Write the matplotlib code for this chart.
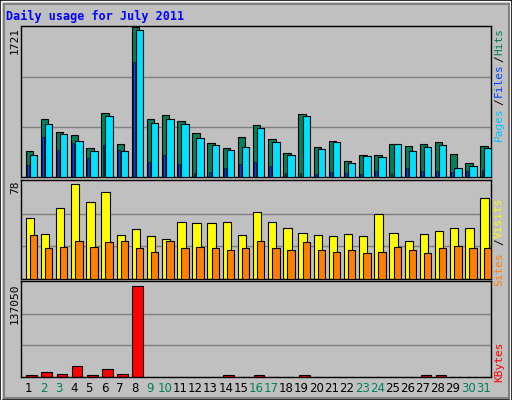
import matplotlib
matplotlib.use("Agg")
import matplotlib.pyplot as plt
from matplotlib.patches import Rectangle

days = list(range(1, 32))
hits = [296,663,519,484,332,741,378,1721,663,718,647,507,390,332,460,601,437,273,729,343,413,179,250,250,378,355,378,402,261,156,355]
files = [250,612,495,413,296,706,296,1689,624,671,612,449,367,308,343,566,402,250,706,320,402,156,238,226,378,296,343,367,109,121,332]
pages = [133,460,308,390,215,367,308,1326,168,250,144,51,62,98,144,168,121,51,51,39,62,51,39,74,51,98,74,74,62,74,86]
visits = [50,37,58.5,78,63,71,36,41,35,33,47,46,46,47,36,55,47,42,38,36,35,37,35,53,38,31,37,39,42,42,66]
sites = [36,25,26,31,26,30,31,25,22,31,25,26,25,24,25,31,25,24,30,24,22,24,21,22,26,24,21,25,27,25,25]
kbytes = [3000,7500,4500,16500,3000,12000,4500,137050,600,600,600,600,600,2500,600,2500,600,600,2500,600,600,600,600,600,600,600,2500,2500,600,600,600]
weekends = {2,3,9,10,16,17,23,24,30,31}

W, H = 512, 400
fig = plt.figure(figsize=(W/100, H/100), dpi=100, facecolor="#C0C0C0")
mono = "DejaVu Sans Mono"

def ax_px(x0, y0, x1, y1):
    return fig.add_axes([x0/W, 1-y1/H, (x1-x0)/W, (y1-y0)/H])

fig.patches.append(Rectangle((0,0),1,1,transform=fig.transFigure,fill=False,ec="black",lw=1.5))
fig.patches.append(Rectangle((1/W,0),(W-3)/W,(H-1)/H,transform=fig.transFigure,fill=False,ec="white",lw=1))
fig.patches.append(Rectangle((4/W,2/H),(W-7)/W,(H-6)/H,transform=fig.transFigure,fill=False,ec="#808080",lw=1.5))

def setup(ax, ymax):
    ax.set_facecolor("#C0C0C0")
    ax.set_xlim(0.5, 31.5)
    ax.set_ylim(0, ymax*1.01)
    for f in (1/3, 2/3):
        ax.axhline(ymax*f, color="#808080", lw=1, zorder=0)
    ax.set_xticks([]); ax.set_yticks([])
    for s in ax.spines.values():
        s.set_color("black"); s.set_linewidth(1)

ax1 = ax_px(21, 26, 491, 177)
setup(ax1, 1721)
d = days
ax1.bar([i-0.2 for i in d], hits, width=0.49, align="edge", color="#00805C", ec="black", lw=0.8, zorder=2)
ax1.bar([i+0.07 for i in d], files, width=0.49, align="edge", color="#00E0FF", ec="black", lw=0.8, zorder=3)
ax1.bar([i-0.12 for i in d], pages, width=0.12, align="edge", color="#0040FF", ec="black", lw=0.4, zorder=4)

ax2 = ax_px(21, 180, 491, 279)
setup(ax2, 78*1.03)
ax2.bar([i-0.2 for i in d], visits, width=0.55, align="edge", color="#FFFF00", ec="black", lw=0.8, zorder=2)
ax2.bar([i+0.07 for i in d], sites, width=0.49, align="edge", color="#FF8000", ec="black", lw=0.8, zorder=3)

ax3 = ax_px(21, 281, 491, 377)
setup(ax3, 137050*1.04)
ax3.bar([i-0.15 for i in d], kbytes, width=0.7, align="edge", color="#FF0000", ec="black", lw=0.8, zorder=2)

def ft(x, y, s, c, size=8, fam=mono, **kw):
    fig.text(x/W, 1-y/H, s, color=c, family=fam, fontsize=size, **kw)

ft(6, 16, "Daily usage for July 2011", "#0000FF", size=8.5, weight="bold", va="center", ha="left")
for lab, y in (("1721", 27), ("78", 181), ("137050", 283)):
    ft(15, y, lab, "black", rotation=90, va="top", ha="center")
for s, y, c in (("Hits",28,"#00805C"),("/",55,"#000000"),("Files",63,"#0040FF"),("/",98,"#000000"),("Pages",107,"#00C0FF"),
                ("Visits",198,"#FFFF00"),("/",238,"#000000"),("Sites",252,"#FF8000"),("KBytes",342,"#FF0000")):
    ft(499, y, s, c, rotation=90, va="top", ha="center")
for i in d:
    x = 21 + (i-0.5)*470/31
    ft(x, 389, str(i), "#00805C" if i in weekends else "black", size=8.5, fam="DejaVu Sans", ha="center", va="center")

fig.savefig("out.png", dpi=100, facecolor=fig.get_facecolor())
